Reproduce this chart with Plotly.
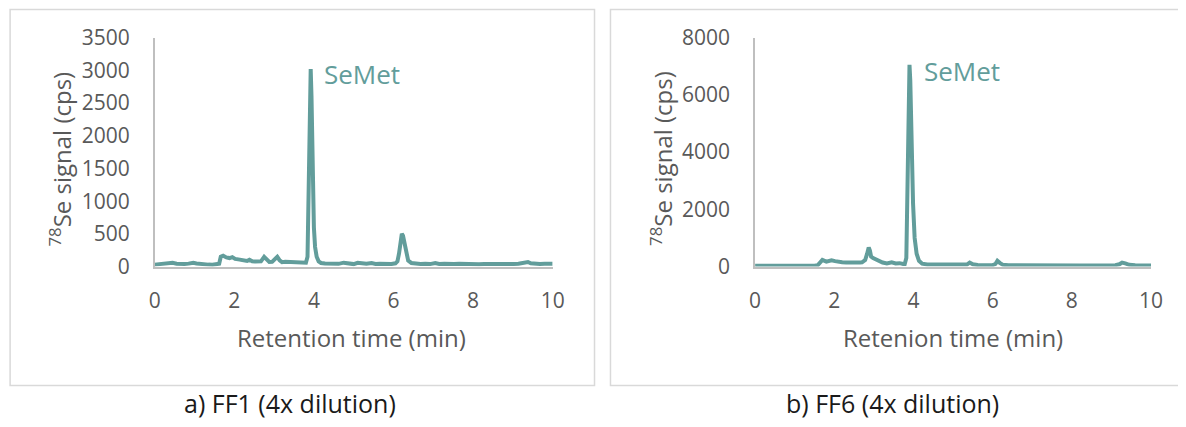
import plotly.graph_objects as go

W, H = 1186, 427

# ---- Data ----
t_ff1 = [0.00, 0.10, 0.20, 0.30, 0.38, 0.45, 0.55, 0.65, 0.75, 0.85, 0.97, 1.05, 1.15, 1.25, 1.35, 1.45, 1.55, 1.62,
         1.66, 1.72, 1.80, 1.88, 1.95, 2.02, 2.10, 2.17, 2.25, 2.32, 2.38, 2.45, 2.52, 2.60, 2.67, 2.75, 2.82, 2.88,
         2.95, 3.02, 3.08, 3.14, 3.20, 3.28, 3.36, 3.44, 3.52, 3.60, 3.68, 3.76, 3.80, 3.84, 3.87, 3.90, 3.92, 3.94,
         3.97, 4.00, 4.03, 4.07, 4.12, 4.18, 4.28, 4.40, 4.50, 4.62, 4.75, 4.82, 4.90, 5.00, 5.10, 5.20, 5.32, 5.45,
         5.55, 5.65, 5.75, 5.85, 5.95, 6.05, 6.10, 6.14, 6.18, 6.21, 6.24, 6.28, 6.32, 6.37, 6.45, 6.55, 6.68, 6.80,
         6.92, 7.05, 7.15, 7.28, 7.40, 7.52, 7.65, 7.78, 7.90, 8.02, 8.15, 8.28, 8.40, 8.52, 8.65, 8.78, 8.90, 9.02,
         9.14, 9.24, 9.32, 9.38, 9.45, 9.55, 9.68, 9.80, 9.90, 10.00]
s_ff1 = [30, 35, 40, 50, 62, 58, 45, 35, 38, 45, 58, 48, 38, 34, 30, 28, 30, 45,
         150, 165, 140, 130, 145, 118, 110, 100, 95, 85, 105, 80, 78, 82, 80, 148, 100, 70,
         72, 110, 150, 95, 68, 72, 70, 78, 65, 62, 58, 55, 60, 150, 1600, 2950, 3020, 2600,
         1500, 600, 300, 150, 80, 55, 48, 50, 45, 42, 60, 55, 40, 38, 58, 45, 42, 55,
         40, 45, 42, 48, 40, 50, 80, 200, 420, 500, 470, 330, 180, 90, 55, 45, 40, 42,
         38, 55, 40, 45, 50, 40, 42, 38, 45, 40, 36, 40, 38, 35, 40, 38, 42, 40,
         45, 55, 75, 70, 50, 40, 38, 42, 40, 42]

t_ff6 = [0.00, 0.15, 0.30, 0.45, 0.60, 0.75, 0.90, 1.05, 1.20, 1.35, 1.50, 1.58, 1.64, 1.70, 1.80, 1.93, 2.02, 2.10,
         2.20, 2.30, 2.42, 2.55, 2.65, 2.70, 2.78, 2.83, 2.87, 2.90, 2.93, 2.98, 3.07, 3.15, 3.22, 3.33, 3.45, 3.55,
         3.65, 3.74, 3.78, 3.82, 3.85, 3.88, 3.90, 3.92, 3.95, 3.99, 4.03, 4.08, 4.14, 4.22, 4.35, 4.50, 4.65, 4.80,
         4.95, 5.10, 5.25, 5.35, 5.42, 5.50, 5.62, 5.75, 5.88, 6.00, 6.07, 6.12, 6.18, 6.26, 6.40, 6.55, 6.70, 6.85,
         7.00, 7.15, 7.30, 7.45, 7.60, 7.75, 7.90, 8.05, 8.20, 8.35, 8.50, 8.65, 8.80, 8.95, 9.10, 9.20, 9.27, 9.35,
         9.45, 9.60, 9.75, 9.90, 10.00]
s_ff6 = [30, 28, 25, 30, 28, 25, 30, 28, 25, 28, 30, 45, 150, 235, 175, 220, 190, 160,
         150, 140, 130, 125, 140, 150, 230, 450, 670, 560, 350, 300, 230, 180, 140, 110, 150, 110,
         120, 90, 90, 300, 3000, 6800, 7050, 6500, 4500, 2200, 1000, 450, 200, 100, 70, 65, 60, 55,
         55, 50, 55, 70, 140, 80, 55, 50, 45, 50, 90, 200, 130, 60, 45, 42, 40, 45,
         40, 38, 42, 40, 45, 42, 38, 40, 38, 40, 38, 40, 38, 40, 45, 80, 140, 110,
         60, 45, 40, 42, 40]

x_ticks = [0, 2, 4, 6, 8, 10]
y_ticks_ff1 = [0, 500, 1000, 1500, 2000, 2500, 3000, 3500]
y_ticks_ff6 = [0, 2000, 4000, 6000, 8000]

x_titles = ["Retention time (min)", "Retenion time (min)"]
y_title = "<sup>78</sup>Se signal (cps)"
captions = ["a) FF1 (4x dilution)", "b) FF6 (4x dilution)"]
peak_label = "SeMet"

# ---- Styling ----
LINE = "#629d9b"
TICK = "#595959"
AXIS = "#bfbfbf"
FONT = "Open Sans"

# the page is photographed slightly offset/scaled; map target pixels to paper
SX, OX = 0.9875, 11.9
SY, OY = 0.9345, 21.4


def px(x):
    return ((x - OX) / SX) / W


def py(y):
    return 1 - ((y - OY) / SY) / H


fig = go.Figure()
fig.add_trace(go.Scatter(x=t_ff1, y=s_ff1, mode="lines", line=dict(color=LINE, width=4),
                         xaxis="x", yaxis="y", showlegend=False))
fig.add_trace(go.Scatter(x=t_ff6, y=s_ff6, mode="lines", line=dict(color=LINE, width=4),
                         xaxis="x2", yaxis="y2", showlegend=False))

ydom = [py(265), py(36)]
common_x = dict(range=[0, 10], tickvals=x_ticks, showgrid=False, zeroline=False, showline=True,
                linecolor=AXIS, linewidth=1.5, ticks="", ticklabelstandoff=14,
                tickfont=dict(family=FONT, size=21, color=TICK), fixedrange=True)
common_y = dict(showgrid=False, zeroline=False, showline=True, linecolor=AXIS, linewidth=1.5,
                ticks="", ticklabelstandoff=19, tickfont=dict(family=FONT, size=21, color=TICK),
                fixedrange=True)

fig.update_layout(
    width=W, height=H, autosize=False, margin=dict(l=0, r=0, t=0, b=0),
    paper_bgcolor="white", plot_bgcolor="white",
    xaxis=dict(domain=[px(153), px(552)], anchor="y", **common_x),
    yaxis=dict(domain=ydom, anchor="x", range=[0, 3500], tickvals=y_ticks_ff1, **common_y),
    xaxis2=dict(domain=[px(755), px(1152)], anchor="y2", **common_x),
    yaxis2=dict(domain=ydom, anchor="x2", range=[0, 8000], tickvals=y_ticks_ff6, **common_y),
)

shapes = [
    dict(type="rect", xref="paper", yref="paper", x0=px(8), x1=px(594), y0=py(384), y1=py(8),
         line=dict(color="#d9d9d9", width=1.5), fillcolor="rgba(0,0,0,0)", layer="below"),
    dict(type="rect", xref="paper", yref="paper", x0=px(610), x1=px(1215), y0=py(384), y1=py(8),
         line=dict(color="#d9d9d9", width=1.5), fillcolor="rgba(0,0,0,0)", layer="below"),
]
fig.update_layout(shapes=shapes)

ann = []
for cx, txt in ((350, x_titles[0]), (953, x_titles[1])):
    ann.append(dict(text=txt, x=px(cx), y=py(336), xref="paper", yref="paper", showarrow=False,
                    xanchor="center", yanchor="middle", font=dict(family=FONT, size=24, color=TICK)))
for cx in (59, 661):
    ann.append(dict(text=y_title, x=px(cx), y=py(157), xref="paper", yref="paper", showarrow=False,
                    xanchor="center", yanchor="middle", textangle=-90,
                    font=dict(family=FONT, size=24, color=TICK)))
ann.append(dict(text=peak_label, x=px(321), y=py(72), xref="paper", yref="paper", showarrow=False,
                xanchor="left", yanchor="middle", font=dict(family=FONT, size=26, color=LINE)))
ann.append(dict(text=peak_label, x=px(922), y=py(69), xref="paper", yref="paper", showarrow=False,
                xanchor="left", yanchor="middle", font=dict(family=FONT, size=26, color=LINE)))
for cx, txt in ((289, captions[0]), (893, captions[1])):
    ann.append(dict(text=txt, x=px(cx), y=0, xref="paper", yref="paper", showarrow=False,
                    xanchor="center", yanchor="bottom", font=dict(family=FONT, size=25, color="#1a1a1a")))
fig.update_layout(annotations=ann)

fig.write_html("out.html", config={"responsive": False})
